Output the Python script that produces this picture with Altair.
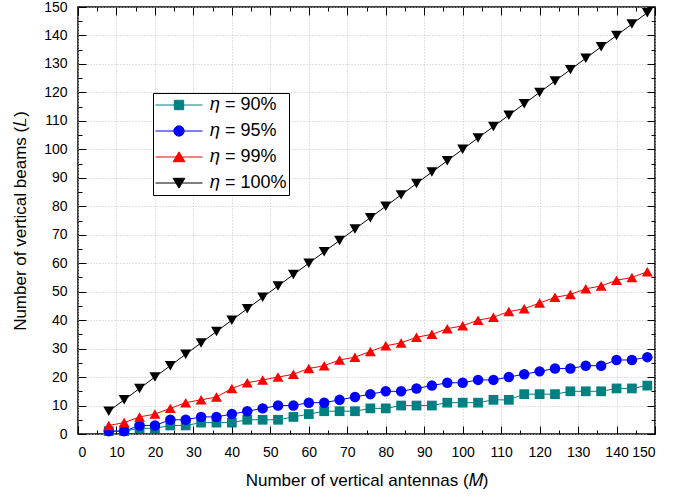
import altair as alt
import pandas as pd

# ---- data ----
M_vals = [8, 12, 16, 20, 24, 28, 32, 36, 40, 44, 48, 52, 56, 60, 64, 68, 72, 76,
          80, 84, 88, 92, 96, 100, 104, 108, 112, 116, 120, 124, 128, 132, 136, 140, 144, 148]
L_90 = [1, 1, 2, 2, 3, 3, 4, 4, 4, 5, 5, 5, 6, 7, 8, 8, 8, 9,
        9, 10, 10, 10, 11, 11, 11, 12, 12, 14, 14, 14, 15, 15, 15, 16, 16, 17]
L_95 = [1, 1, 3, 3, 5, 5, 6, 6, 7, 8, 9, 10, 10, 11, 11, 12, 13, 14,
        15, 15, 16, 17, 18, 18, 19, 19, 20, 21, 22, 23, 23, 24, 24, 26, 26, 27]
L_99 = [3, 4, 6, 7, 9, 11, 12, 13, 16, 18, 19, 20, 21, 23, 24, 26, 27, 29,
        31, 32, 34, 35, 37, 38, 40, 41, 43, 44, 46, 48, 49, 51, 52, 54, 55, 57]
L_100 = [8, 12, 16, 20, 24, 28, 32, 36, 40, 44, 48, 52, 56, 60, 64, 68, 72, 76,
         80, 84, 88, 92, 96, 100, 104, 108, 112, 116, 120, 124, 128, 132, 136, 140, 144, 148]

series_names = ["𝜂 = 90%", "𝜂 = 95%", "𝜂 = 99%", "𝜂 = 100%"]
series_vals = [L_90, L_95, L_99, L_100]
colors = ["#008080", "#0000ff", "#ff0000", "#000000"]
shapes = ["square", "circle", "triangle-up", "triangle-down"]
sizes = [95, 110, 120, 120]

all_ticks = list(range(0, 151, 5))

legend_paths = [
    "M-1,0H1M-0.2,-0.2H0.2V0.2H-0.2Z",
    "M-1,0H1M-0.22,0A0.22,0.22 0 1,0 0.22,0A0.22,0.22 0 1,0 -0.22,0Z",
    "M-1,0H1M0,-0.22L0.25,0.2L-0.25,0.2Z",
    "M-1,0H1M0,0.22L0.25,-0.2L-0.25,-0.2Z",
]

rows = []
for name, vals in zip(series_names, series_vals):
    for m, l in zip(M_vals, vals):
        rows.append({"M": m, "L": l, "s": name})
df = pd.DataFrame(rows)

xscale = alt.Scale(domain=[0, 150], nice=False)
yscale = alt.Scale(domain=[0, 150], nice=False)

minor_test = "datum.value % 10 !== 0"
tick_dash = {"condition": {"test": minor_test, "value": [0, 4, 4]}, "value": [8, 0]}
grid_op = {"condition": {"test": minor_test, "value": 0}, "value": 1}
label_expr = "datum.value % 10 === 0 ? datum.label : ''"

common = dict(values=all_ticks, offset=-8, ticks=True, tickSize=8, tickColor="black",
              tickWidth=1, tickDash=tick_dash, domain=False)

x_axis = alt.Axis(orient="bottom", title="Number of vertical antennas (𝑀)",
                  labelExpr=label_expr, labelPadding=11, titlePadding=13,
                  labelOverlap=False, grid=True, gridOpacity=grid_op, **common)
y_axis = alt.Axis(orient="left", title="Number of vertical beams (𝐿)",
                  labelExpr=label_expr, labelPadding=11, titlePadding=14,
                  labelOverlap=False, grid=True, gridOpacity=grid_op, **common)
top_axis = alt.Axis(orient="top", title=None, labels=False, grid=False, **common)
right_axis = alt.Axis(orient="right", title=None, labels=False, grid=False, **common)

X = alt.X("M:Q", scale=xscale, axis=x_axis)
Y = alt.Y("L:Q", scale=yscale, axis=y_axis)

base = alt.Chart(df)

lines = base.mark_line(strokeWidth=1).encode(
    x=X, y=Y,
    color=alt.Color("s:N", scale=alt.Scale(domain=series_names, range=colors), legend=None),
)

point_layers = []
for name, col, shp, sz in zip(series_names, colors, shapes, sizes):
    point_layers.append(
        base.transform_filter(alt.datum.s == name)
        .mark_point(filled=True, shape=shp, size=sz, color=col, opacity=1)
        .encode(x=X, y=Y)
    )

leg = alt.Legend(orient="none", legendX=75, legendY=86, title=None,
                 symbolSize=2209, symbolStrokeWidth=1, clipHeight=20,
                 labelFont="Liberation Sans", labelFontSize=18,
                 labelColor="black", labelOffset=7,
                 strokeColor="black", fillColor="white",
                 padding=2, rowPadding=6)

legend_layer = base.transform_filter("datum.M == 8").mark_point(filled=True, opacity=1).encode(
    x=alt.value(-200),
    y=alt.value(-200),
    fill=alt.Fill("s:N", scale=alt.Scale(domain=series_names, range=colors), legend=leg),
    stroke=alt.Stroke("s:N", scale=alt.Scale(domain=series_names, range=colors), legend=leg),
    shape=alt.Shape("s:N", scale=alt.Scale(domain=series_names, range=legend_paths), legend=leg),
)

main = alt.layer(legend_layer, lines, *point_layers)

mirror = alt.Chart(alt.InlineData(values=[{"v": t} for t in all_ticks])).mark_point(
    opacity=0).encode(
    x=alt.X("v:Q", scale=xscale, axis=top_axis),
    y=alt.Y("v:Q", scale=yscale, axis=right_axis),
)

chart = alt.layer(main, mirror).resolve_axis(x="independent", y="independent").properties(
    width=577, height=427,
    autosize=alt.AutoSizeParams(type="none"),
    padding={"left": 78, "top": 7, "right": 40, "bottom": 65},
    background="white",
).configure_view(
    stroke="black", strokeWidth=1.5
).configure_axis(
    gridColor="#c4c4c4", gridDash=[1, 2], gridWidth=1,
    labelFont="Liberation Sans", labelFontSize=14, labelColor="black",
    titleFont="Liberation Sans", titleFontSize=17, titleFontWeight="normal", titleColor="black",
)

chart.save("out.html", embed_options={"renderer": "svg", "actions": False})
